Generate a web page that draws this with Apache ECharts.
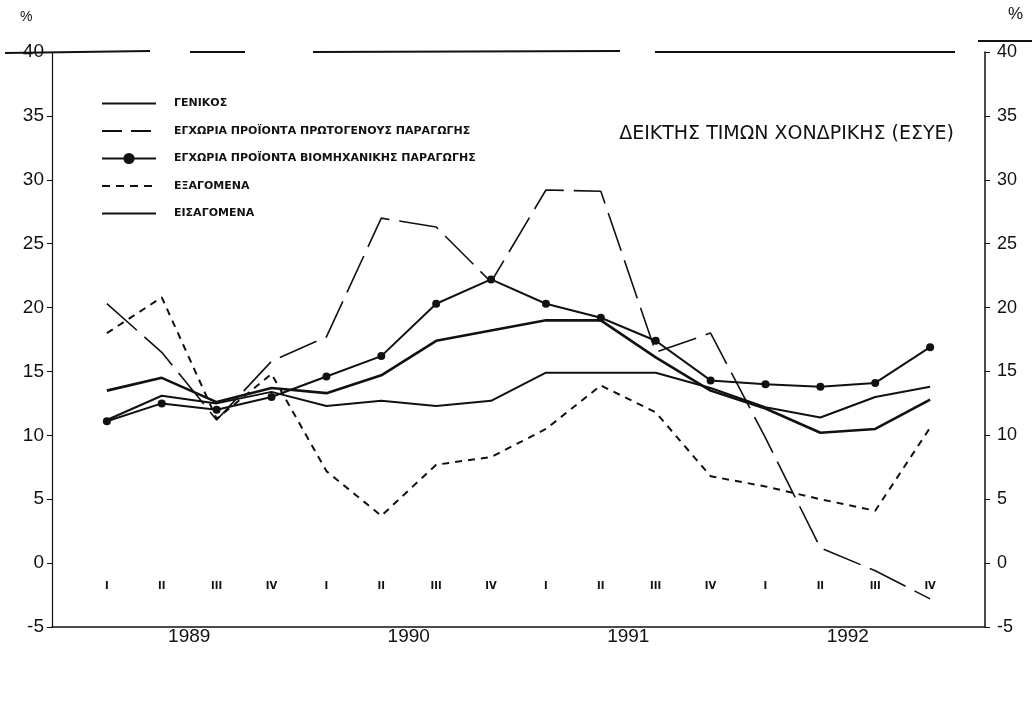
<!DOCTYPE html>
<html>
<head>
<meta charset="utf-8">
<script src="https://cdn.jsdelivr.net/npm/echarts@6/dist/echarts.min.js"></script>
<style>
html,body{margin:0;padding:0;background:#fff;}
#chart{width:1035px;height:715px;}
</style>
</head>
<body>
<div id="chart"></div>
<script>
// ---- data ----
var quarterLabels = ['I','II','III','IV','I','II','III','IV','I','II','III','IV','I','II','III','IV'];
var yearLabels = ['1989','1990','1991','1992'];
var seriesNames = [
  'ΓΕΝΙΚΟΣ',
  'ΕΓΧΩΡΙΑ ΠΡΟΪΟΝΤΑ ΠΡΩΤΟΓΕΝΟΥΣ ΠΑΡΑΓΩΓΗΣ',
  'ΕΓΧΩΡΙΑ ΠΡΟΪΟΝΤΑ ΒΙΟΜΗΧΑΝΙΚΗΣ ΠΑΡΑΓΩΓΗΣ',
  'ΕΞΑΓΟΜΕΝΑ',
  'ΕΙΣΑΓΟΜΕΝΑ'
];
var general   = [13.5, 14.5, 12.6, 13.7, 13.3, 14.7, 17.4, 18.2, 19.0, 19.0, 16.1, 13.5, 12.1, 10.2, 10.5, 12.8];
var primary   = [20.3, 16.5, 11.2, 15.8, 17.7, 27.0, 26.3, 22.0, 29.2, 29.1, 16.5, 18.0, 9.8, 1.2, -0.6, -2.8];
var industry  = [11.1, 12.5, 12.0, 13.0, 14.6, 16.2, 20.3, 22.2, 20.3, 19.2, 17.4, 14.3, 14.0, 13.8, 14.1, 16.9];
var exportsV  = [18.0, 20.8, 11.3, 14.8, 7.2, 3.7, 7.7, 8.3, 10.5, 13.9, 11.8, 6.8, 6.0, 5.0, 4.1, 10.6];
var importsV  = [11.2, 13.1, 12.5, 13.4, 12.3, 12.7, 12.3, 12.7, 14.9, 14.9, 14.9, 13.7, 12.2, 11.4, 13.0, 13.8];
var yTicks = { min: -5, max: 40, interval: 5 };
var titleText = 'ΔΕΙΚΤΗΣ ΤΙΜΩΝ ΧΟΝΔΡΙΚΗΣ (ΕΣΥΕ)';

function pairs(arr){ return arr.map(function(v,i){ return [i, v]; }); }

var chart = echarts.init(document.getElementById('chart'), null, {renderer:'canvas'});
var black = '#111';
var noSym = { opacity: 0 };
var option = {
  backgroundColor: '#fff',
  animation: false,
  title: {
    text: titleText, right: 76, top: 120,
    textStyle: { fontFamily: 'DejaVu Sans, sans-serif', fontSize: 19, fontWeight: 'normal', color: black, letterSpacing: 2.3 }
  },
  legend: {
    orient: 'vertical', left: 96, top: 90,
    itemWidth: 54, itemHeight: 14, itemGap: 10.5,
    textStyle: { fontFamily: 'DejaVu Sans, sans-serif', fontSize: 11, fontWeight: 'bold', color: black, padding: [0,0,0,13], lineHeight: 17, height: 17 },
    data: [
      { name: seriesNames[0], itemStyle: noSym },
      { name: seriesNames[1], itemStyle: noSym, lineStyle: { type: [20, 9] } },
      { name: seriesNames[2] },
      { name: seriesNames[3], itemStyle: noSym, lineStyle: { type: [8, 6] } },
      { name: seriesNames[4], itemStyle: noSym }
    ]
  },
  grid: { left: 52, right: 50, top: 52, bottom: 88, containLabel: false },
  xAxis: [
    {
      type: 'value', min: -1, max: 16, interval: 1, position: 'bottom',
      axisLine: { show: true, onZero: false, lineStyle: { color: black, width: 1.5 } },
      axisTick: { show: false }, splitLine: { show: false },
      axisLabel: {
        inside: true, margin: 36, color: black, fontFamily: 'DejaVu Sans, sans-serif', fontSize: 10, fontWeight: 'bold',
        formatter: function(v){ return (v >= 0 && v < quarterLabels.length && Math.round(v) === v) ? quarterLabels[v] : ''; }
      }
    },
    {
      type: 'value', min: -1, max: 16, interval: 0.5, position: 'bottom',
      axisLine: { show: false }, axisTick: { show: false }, splitLine: { show: false },
      axisLabel: {
        margin: 0, color: black, fontFamily: 'Liberation Sans, Arial, sans-serif', fontSize: 19,
        formatter: function(v){ var k = (v - 1.5) / 4; return (k >= 0 && Math.round(k) === k && k < yearLabels.length) ? yearLabels[k] : ''; }
      }
    }
  ],
  yAxis: [
    {
      type: 'value', min: yTicks.min, max: yTicks.max, interval: yTicks.interval, position: 'left',
      axisLine: { show: true, onZero: false, lineStyle: { color: black, width: 1.2 } },
      axisTick: { show: true, length: 5, lineStyle: { color: black } },
      splitLine: { show: false },
      axisLabel: { margin: 8, color: black, fontFamily: 'Liberation Sans, Arial, sans-serif', fontSize: 19 }
    },
    {
      type: 'value', min: yTicks.min, max: yTicks.max, interval: yTicks.interval, position: 'right',
      axisLine: { show: true, onZero: false, lineStyle: { color: black, width: 1.5 } },
      axisTick: { show: true, length: 5, lineStyle: { color: black } },
      splitLine: { show: false },
      axisLabel: { margin: 12, color: black, fontFamily: 'Liberation Sans, Arial, sans-serif', fontSize: 18 }
    }
  ],
  graphic: [
    { type: 'line', shape: { x1: 5, y1: 53, x2: 150, y2: 51 }, style: { stroke: black, lineWidth: 2 } },
    { type: 'line', shape: { x1: 190, y1: 52, x2: 245, y2: 52 }, style: { stroke: black, lineWidth: 2 } },
    { type: 'line', shape: { x1: 313, y1: 52, x2: 620, y2: 51 }, style: { stroke: black, lineWidth: 2 } },
    { type: 'line', shape: { x1: 655, y1: 52, x2: 955, y2: 52 }, style: { stroke: black, lineWidth: 2 } },
    { type: 'line', shape: { x1: 978, y1: 41, x2: 1032, y2: 41 }, style: { stroke: black, lineWidth: 2 } },
    { type: 'text', left: 20, top: 10, style: { text: '%', fontSize: 14, fontFamily: 'Liberation Sans, Arial', fill: black } },
    { type: 'text', left: 1008, top: 6, style: { text: '%', fontSize: 17, fontFamily: 'Liberation Sans, Arial', fill: black } }
  ],
  series: [
    {
      name: seriesNames[0], type: 'line', data: pairs(general), symbol: 'none',
      lineStyle: { color: black, width: 2.6 }, itemStyle: { color: black }, z: 5
    },
    {
      name: seriesNames[1], type: 'line', data: pairs(primary), symbol: 'none',
      lineStyle: { color: black, width: 1.6, type: [40, 10] }, itemStyle: { color: black }
    },
    {
      name: seriesNames[2], type: 'line', data: pairs(industry), symbol: 'circle', symbolSize: 8,
      lineStyle: { color: black, width: 2 }, itemStyle: { color: black }
    },
    {
      name: seriesNames[3], type: 'line', data: pairs(exportsV), symbol: 'none',
      lineStyle: { color: black, width: 2, type: [7, 6] }, itemStyle: { color: black }
    },
    {
      name: seriesNames[4], type: 'line', data: pairs(importsV), symbol: 'none',
      lineStyle: { color: black, width: 2 }, itemStyle: { color: black }
    }
  ]
};
chart.setOption(option);
</script>
</body>
</html>
